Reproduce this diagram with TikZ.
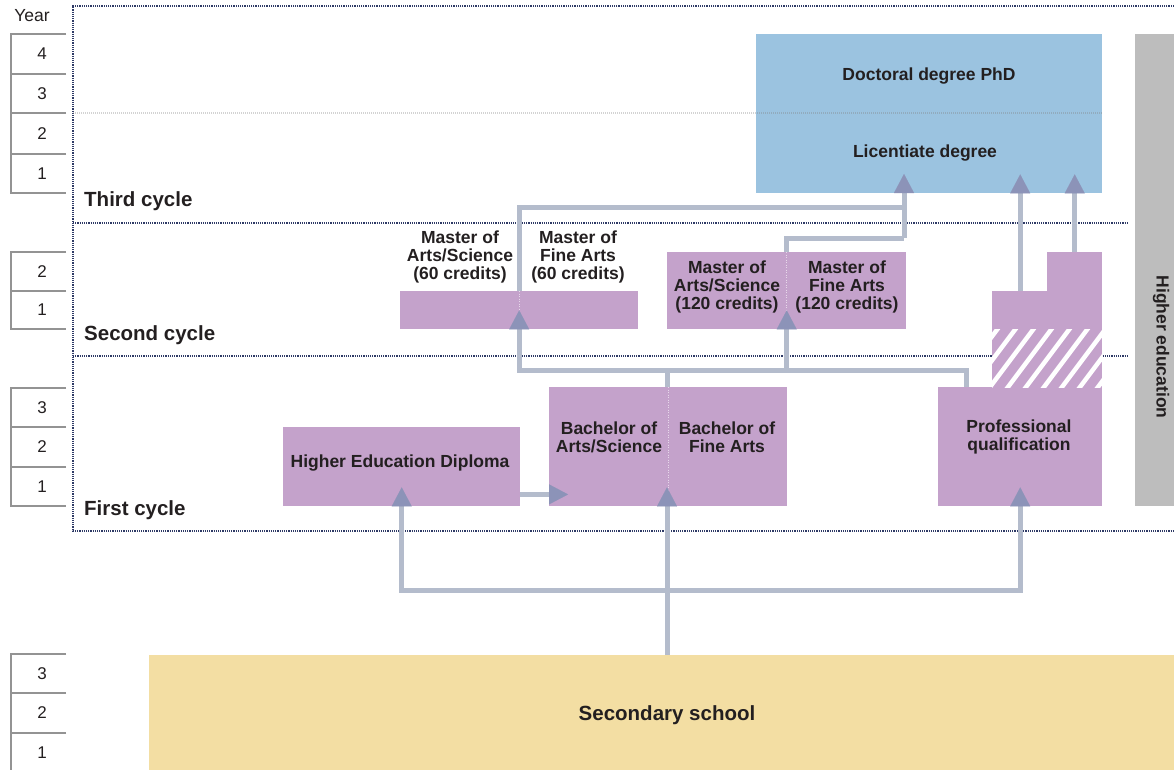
\documentclass[tikz,border=0pt]{standalone}
\usepackage{fontspec}
\setmainfont{Liberation Sans}
\usepackage{tikz}
\usetikzlibrary{arrows.meta}
\usetikzlibrary{positioning}
\definecolor{purp}{HTML}{C4A2CB}
\definecolor{phdblue}{HTML}{9BC3E0}
\definecolor{school}{HTML}{F3DEA3}
\definecolor{barc}{HTML}{BDBDBD}
\definecolor{linkc}{HTML}{B4BCCC}
\definecolor{tipc}{HTML}{8C93B8}
\definecolor{framec}{HTML}{2E3A66}
\definecolor{ink}{HTML}{231F20}
\tikzset{
    degree/.style={
           rectangle,
           fill=purp,
           inner sep=0pt,
           anchor=north west,
           },
    boxtext/.style={
           font=\bfseries\fontsize{17.5}{18}\selectfont,
           text=ink,
           align=center,
           inner sep=0pt,
           },
    cyclename/.style={
           font=\bfseries\fontsize{20.5}{22}\selectfont,
           text=ink,
           anchor=west,
           inner sep=0pt,
           },
    yearnum/.style={
           font=\fontsize{17}{18}\selectfont,
           text=ink,
           inner sep=0pt,
           },
    yearline/.style={draw=gray!85, line width=1.4pt},
    cycleframe/.style={draw=framec, line width=1.4pt, dash pattern=on 1.2pt off 1pt},
    link/.style={draw=linkc, line width=5pt},
    arr/.style={link, -{Triangle[width=20pt,length=19pt,line width=0.1pt,color=tipc]}, shorten >=-19pt},
    split/.style={draw=white, opacity=0.6, line width=1pt, dash pattern=on 1pt off 1.5pt},
}
\begin{document}
\begin{tikzpicture}[x=1pt,y=-1pt]
 \useasboundingbox (0,0) rectangle (1174,770);

 \node[yearnum, font=\fontsize{17.5}{18}\selectfont] (year) at (32,16) {Year};
 \foreach \t/\b/\n/\c in {34/74/4/ta, 74/113/3/tb, 113/154/2/tc, 154/193/1/td,
                          252/291/2/sa, 291/329/1/sb,
                          388/427/3/fa, 427/467/2/fb, 467/506/1/fc,
                          654/693/3/ga, 693/733/2/gb, 733/772/1/gc} {
  \draw[yearline] (66,\t) -- (11,\t) -- (11,\b) -- (66,\b);
  \node[yearnum] (\c) at (42,{(\t+\b)/2}) {\n};
 }

 \draw[cycleframe] (1174,6) -- (73,6) -- (73,531) -- (1174,531);
 \draw[cycleframe] (73,223) -- (1127,223);
 \draw[cycleframe] (73,356) -- (1127,356);
 \node[cyclename] (third) at (84,201) {Third cycle};
 \node[cyclename] (second) at (84,335) {Second cycle};
 \node[cyclename] (first) at (84,510) {First cycle};

 \node[degree, fill=barc, minimum width=39pt, minimum height=472pt] (bar) at (1135,34) {};
 \node[boxtext, rotate=-90] (higher) at (1161,347) {Higher education};

 \node[degree, fill=phdblue, minimum width=346pt, minimum height=159pt] (doc) at (756,34) {};
 \draw[gray, opacity=0.35, line width=1.2pt, dash pattern=on 1pt off 1pt] (73,113) -- (1102,113);
 \node[boxtext] (phd) at (929,76) {Doctoral degree PhD};
 \node[boxtext] (licd) at (925,153) {Licentiate degree};

 \node[degree, minimum width=238pt, minimum height=38pt] (m60) at (400,291) {};
 \draw[split] (m60.north) -- (m60.south);
 \node[boxtext] (m60a) at (460,257) {Master of\\Arts/Science\\(60 credits)};
 \node[boxtext] (m60b) at (578,257) {Master of\\Fine Arts\\(60 credits)};

 \node[degree, minimum width=239pt, minimum height=77pt] (m120) at (667,252) {};
 \draw[split] (m120.north) -- (m120.south);
 \node[boxtext] (m120a) at (727,287) {Master of\\Arts/Science\\(120 credits)};
 \node[boxtext] (m120b) at (847,287) {Master of\\Fine Arts\\(120 credits)};

 \node[degree, minimum width=237pt, minimum height=79pt] (dip) at (283,427) {};
 \node[boxtext] (dipt) at (400,463) {Higher Education Diploma};

 \node[degree, minimum width=238pt, minimum height=119pt] (bach) at (549,387) {};
 \draw[split] (bach.north) -- (bach.south);
 \node[boxtext] (bacha) at (609,437) {Bachelor of\\Arts/Science};
 \node[boxtext] (bachb) at (727,437) {Bachelor of\\Fine Arts};

 \node[degree, minimum width=164pt, minimum height=119pt] (prof) at (938,387) {};
 \node[boxtext] (proft) at (1019,437) {Professional\\qualification};
 \node[degree, minimum width=110pt, minimum height=96pt] (pqlow) at (992,291) {};
 \node[degree, minimum width=55pt, minimum height=40pt] (pqhigh) at (1047,252) {};
 \begin{scope}
  \clip (992,329) rectangle (1102,387);
  \foreach \i in {0,...,10}
   \draw[white, line width=4.5pt] (930+\i*18,395) -- ++(54,-72);
 \end{scope}

 \node[degree, fill=school, minimum width=1025pt, minimum height=115pt] (sec) at (149,655) {};
 \node[boxtext, font=\bfseries\fontsize{20.5}{22}\selectfont] (sect) at (667,715) {Secondary school};

 \coordinate (hub) at (667,590);
 \coordinate (fork) at (667,370);
 \coordinate (tjoin) at (904,207);
 \coordinate (sjoin) at (904,238);
 \coordinate (lic) at (904,193);

 \draw[link] (sec.north -| hub) -- (hub);
 \draw[arr] (hub) -- (bach.south -| hub);
 \draw[arr] (hub) -| (dip.south);
 \draw[arr] (hub) -| (prof.south);
 \draw[arr] ([yshift=12pt]dip.south east) -- ([yshift=12pt]bach.south west);

 \draw[link] (bach.north -| fork) -- (fork);
 \draw[arr] (fork) -| (m60.south);
 \draw[arr] (fork) -| (m120.south);
 \draw[link] (fork) -| ([xshift=28pt]prof.north west);

 \draw[link] (m120.north) |- (sjoin);
 \draw[arr] (m60.north) |- (tjoin) -- (lic);
 \draw[link] (sjoin) -- (tjoin);
 \draw[arr] (prof.north |- pqlow.north) -- (prof.north |- doc.south);
 \draw[arr] (pqhigh.north) -- (pqhigh.north |- doc.south);
\end{tikzpicture}
\end{document}
